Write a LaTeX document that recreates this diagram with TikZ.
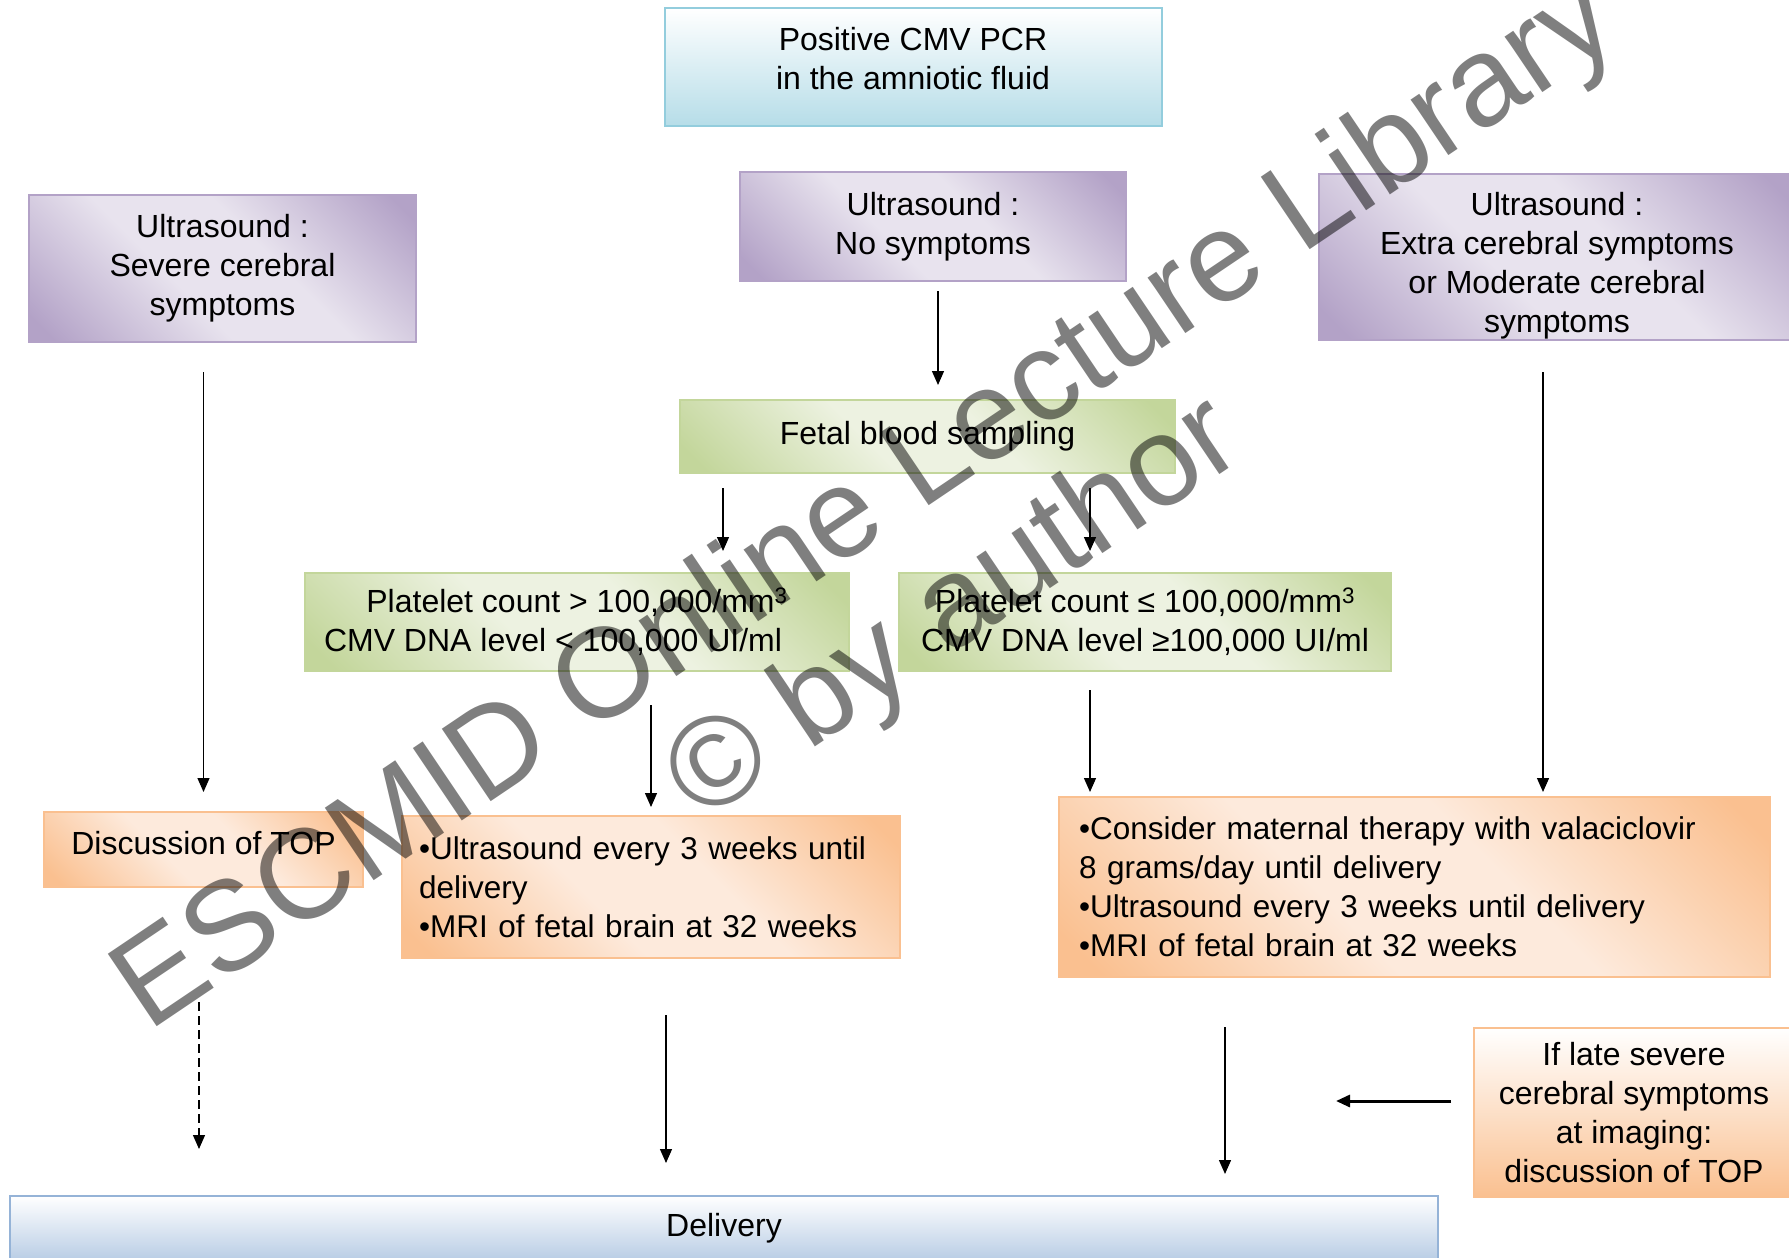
\documentclass[tikz,border=0pt]{standalone}
\usepackage{fontspec}
\setmainfont{Liberation Sans}
\usetikzlibrary{arrows.meta}
\definecolor{pdark}{HTML}{B3A2C7}
\definecolor{plight}{HTML}{E8E3EE}
\definecolor{gdark}{HTML}{C3D69B}
\definecolor{glight}{HTML}{EDF2E1}
\definecolor{odark}{HTML}{FAC090}
\definecolor{olight}{HTML}{FDEADC}
\definecolor{bborder}{HTML}{93CDDD}
\definecolor{bdark}{HTML}{B6DDE8}
\definecolor{dborder}{HTML}{95B3D7}
\definecolor{ddark}{HTML}{B9CDE5}
\pgfdeclarehorizontalshading{purpdiag}{100bp}{color(0bp)=(pdark); color(18bp)=(pdark); color(42bp)=(plight); color(58bp)=(plight); color(82bp)=(pdark); color(100bp)=(pdark)}
\pgfdeclarehorizontalshading{greendiag}{100bp}{color(0bp)=(gdark); color(18bp)=(gdark); color(42bp)=(glight); color(58bp)=(glight); color(82bp)=(gdark); color(100bp)=(gdark)}
\pgfdeclarehorizontalshading{orangediag}{100bp}{color(0bp)=(odark); color(18bp)=(odark); color(42bp)=(olight); color(58bp)=(olight); color(82bp)=(odark); color(100bp)=(odark)}
\newcommand\liftlines[2]{\raisebox{#1}[\height][\depth]{\begin{tabular}{@{}c@{}}#2\end{tabular}}}
\newcommand\liftleft[2]{\raisebox{#1}[\height][\depth]{\begin{tabular}{@{}l@{}}#2\end{tabular}}}
\tikzset{
  box/.style={draw, line width=2pt, inner sep=0pt, font=\fontsize{32}{39}\selectfont, align=center, text=black},
  bluebox/.style={box, draw=bborder, top color=white, bottom color=bdark},
  purpbox/.style={box, draw=pdark, shading=purpdiag, shading angle=45},
  greenbox/.style={box, draw=gdark, shading=greendiag, shading angle=45},
  orangebox/.style={box, draw=odark, shading=orangediag, shading angle=45},
  bulletbox/.style={orangebox, font=\fontsize{31.5}{39}\selectfont, align=left},
  latebox/.style={box, draw=odark, top color=white, bottom color=odark},
  delivbox/.style={box, draw=dborder, top color=white, bottom color=ddark},
  arr/.style={-{Triangle[length=14pt,width=12pt]}, line width=1.3pt, black},
  wm/.style={font=\fontsize{127}{136}\selectfont, text=black, text opacity=0.5, align=center, rotate=34, inner sep=0pt}
}
\begin{document}
\begin{tikzpicture}[x=1pt,y=-1pt]
\useasboundingbox (0,0) rectangle (1789,1258);
\fill[white] (0,0) rectangle (1789,1258);

\node[bluebox, minimum width=497pt, minimum height=118pt] (pcr) at (913,67) {\liftlines{4.5pt}{Positive CMV PCR\\in the amniotic fluid}};
\node[purpbox, minimum width=387pt, minimum height=147pt] (purpleL) at (222.5,268.5) {Ultrasound :\\Severe cerebral\\symptoms};
\node[purpbox, minimum width=386pt, minimum height=109pt] (purpleM) at (933,226.5) {Ultrasound :\\No symptoms};
\node[purpbox, minimum width=476pt, minimum height=166pt] (purpleR) at (1557,257) {\liftlines{-9pt}{Ultrasound :\\Extra cerebral symptoms\\or Moderate cerebral\\symptoms}};
\node[greenbox, minimum width=495pt, minimum height=73pt] (fetal) at (927.5,436.5) {Fetal blood sampling};
\node[greenbox, minimum width=544pt, minimum height=98pt] (greenL) at (577,622) {Platelet count > 100,000/mm\textsuperscript{3}\\CMV DNA level < 100,000 UI/ml\kern48pt};
\node[greenbox, minimum width=492pt, minimum height=98pt] (greenR) at (1145,622) {Platelet count ≤ 100,000/mm\textsuperscript{3}\\CMV DNA level ≥100,000 UI/ml};
\node[orangebox, minimum width=319pt, minimum height=75pt] (discuss) at (203.5,849.5) {\liftlines{3pt}{Discussion of TOP}};
\node[bulletbox, minimum width=498pt, minimum height=142pt, text width=464pt] (orangeM) at (651,887) {•Ultrasound every 3 weeks until\\delivery\\•MRI of fetal brain at 32 weeks};
\node[bulletbox, minimum width=711pt, minimum height=180pt, text width=671pt] (orangeR) at (1414.5,887) {•Consider maternal therapy with valaciclovir\\8 grams/day until delivery\\•Ultrasound every 3 weeks until delivery\\•MRI of fetal brain at 32 weeks};
\node[latebox, minimum width=320pt, minimum height=169pt] (ifLate) at (1634,1112.5) {If late severe\\cerebral symptoms\\at imaging:\\discussion of TOP};
\node[delivbox, minimum width=1428pt, minimum height=64pt] (delivery) at (724,1228) {Delivery};

\draw[arr, shorten <=29pt, shorten >=19pt] (purpleL.south -| discuss.north) -- (discuss.north);
\draw[arr, shorten <=9pt, shorten >=14pt] ([xshift=5pt]purpleM.south) -- ([xshift=5pt]purpleM.south |- fetal.north);
\draw[arr, shorten <=14pt, shorten >=21pt] ([xshift=-204.5pt]fetal.south) -- ([xshift=-204.5pt]fetal.south |- greenL.north);
\draw[arr, shorten <=14pt, shorten >=21pt] ([xshift=162.5pt]fetal.south) -- ([xshift=162.5pt]fetal.south |- greenR.north);
\draw[arr, shorten <=31pt, shorten >=4pt] ([xshift=-14pt]purpleR.south) -- ([xshift=-14pt]purpleR.south |- orangeR.north);
\draw[arr, shorten <=33pt, shorten >=8pt] (greenL.south -| orangeM.north) -- (orangeM.north);
\draw[arr, shorten <=18pt, shorten >=4pt] ([xshift=-55pt]greenR.south) -- ([xshift=-55pt]greenR.south |- orangeR.north);
\draw[arr, dash pattern=on 9pt off 5pt, shorten <=114pt, shorten >=46pt] ([xshift=-4.5pt]discuss.south) -- ([xshift=-4.5pt]discuss.south |- delivery.north);
\draw[arr, shorten <=56pt, shorten >=32pt] ([xshift=15pt]orangeM.south) -- ([xshift=15pt]orangeM.south |- delivery.north);
\draw[arr, shorten <=49pt, shorten >=21pt] ([xshift=-189.5pt]orangeR.south) -- ([xshift=-189.5pt]orangeR.south |- delivery.north);
\coordinate (lateEnd) at (1336,1101);
\draw[arr, line width=3pt, shorten <=22pt] (ifLate.west |- lateEnd) -- (lateEnd);

\node[wm] (watermark) at (918,556) {ESCMID Online Lecture Library\kern30pt\\© by author};
\end{tikzpicture}
\end{document}
